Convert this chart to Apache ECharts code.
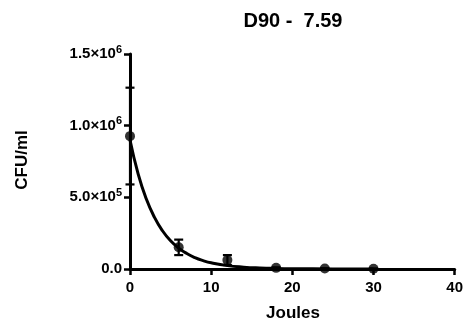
<!DOCTYPE html>
<html>
<head>
<meta charset="utf-8">
<script src="https://cdn.jsdelivr.net/npm/echarts@6/dist/echarts.min.js"></script>
<style>
  html, body { margin: 0; padding: 0; background: #fff; }
  #chart { width: 466px; height: 326px; }
</style>
</head>
<body>
<div id="chart"></div>
<script>
// measured points (Joules vs CFU/ml) with error bars
const pointX = [0, 6, 12, 18, 24, 30]
const pointY = [927000, 152000, 62000, 8000, 3000, 2000]
const errLow = [590000, 97000, 28000, 4000, 1000, 0]
const errHigh = [1265000, 205000, 97000, 12000, 5000, 4000]

// fitted decay curve
const curveX = [0, 1, 2, 3, 4, 5, 6, 7, 8, 9, 10, 12, 14, 16, 18, 20, 25, 30]
const curveY = [900000, 664000, 490000, 362000, 267000, 197000, 146000, 108000, 79500, 58700, 43300, 23600, 12900, 7000, 3800, 2100, 450, 100]

// y tick labels: mantissa and exponent
const yTickValues = [0, 500000, 1000000, 1500000]
const yTickBase = ['0.0', '5.0×10', '1.0×10', '1.5×10']
const yTickExp = ['', '5', '6', '6']

const font = '"Liberation Sans", Arial, sans-serif'

const chart = echarts.init(document.getElementById('chart'))

const option = {
  animation: false,
  backgroundColor: '#fff',
  textStyle: { fontFamily: font },
  grid: { left: 130, right: 11, top: 54, bottom: 57 },
  graphic: [
    {
      type: 'text',
      x: 293,
      y: 21,
      style: {
        text: 'D90 -  7.59',
        font: 'bold 20px ' + font,
        fill: '#000',
        align: 'center',
        verticalAlign: 'middle',
      },
    },
    {
      type: 'text',
      x: 22,
      y: 160,
      rotation: Math.PI / 2,
      style: {
        text: 'CFU/ml',
        font: 'bold 17px ' + font,
        fill: '#000',
        align: 'center',
        verticalAlign: 'middle',
      },
    },
    {
      type: 'text',
      x: 293,
      y: 313,
      style: {
        text: 'Joules',
        font: 'bold 17px ' + font,
        fill: '#000',
        align: 'center',
        verticalAlign: 'middle',
      },
    },
  ],
  xAxis: {
    type: 'value',
    min: 0,
    max: 40,
    interval: 10,
    splitLine: { show: false },
    axisLine: { show: true, onZero: false, lineStyle: { color: '#000', width: 3 } },
    axisTick: { show: true, length: 6, lineStyle: { color: '#000', width: 2.5 } },
    axisLabel: { color: '#000', fontWeight: 'bold', fontSize: 15, margin: 11, fontFamily: font },
  },
  yAxis: {
    type: 'value',
    min: 0,
    max: 1500000,
    interval: 500000,
    splitLine: { show: false },
    axisLine: { show: true, onZero: false, lineStyle: { color: '#000', width: 3 } },
    axisTick: { show: true, length: 6, lineStyle: { color: '#000', width: 2.5 } },
    axisLabel: {
      margin: 8,
      formatter: (v) => {
        const i = yTickValues.indexOf(v)
        if (i < 0) return ''
        return yTickExp[i] ? `{b|${yTickBase[i]}}{s|${yTickExp[i]}}` : `{b|${yTickBase[i]}}`
      },
      rich: {
        b: { color: '#000', fontWeight: 'bold', fontSize: 15, fontFamily: font },
        s: { color: '#000', fontWeight: 'bold', fontSize: 11, fontFamily: font, padding: [0, 0, 9, 0] },
      },
    },
  },
  series: [
    {
      name: 'fit',
      type: 'line',
      data: curveX.map((x, i) => [x, curveY[i]]),
      smooth: true,
      symbol: 'none',
      clip: false,
      lineStyle: { color: '#000', width: 3 },
      z: 2,
    },
    {
      name: 'error',
      type: 'custom',
      clip: false,
      data: pointX.map((x, i) => [x, errLow[i], errHigh[i]]),
      renderItem: (params, api) => {
        const lo = api.coord([api.value(0), api.value(1)])
        const hi = api.coord([api.value(0), api.value(2)])
        const w = 4.5
        const style = { stroke: '#000', lineWidth: 2.2 }
        return {
          type: 'group',
          children: [
            { type: 'line', shape: { x1: lo[0], y1: lo[1], x2: hi[0], y2: hi[1] }, style },
            { type: 'line', shape: { x1: lo[0] - w, y1: lo[1], x2: lo[0] + w, y2: lo[1] }, style },
            { type: 'line', shape: { x1: hi[0] - w, y1: hi[1], x2: hi[0] + w, y2: hi[1] }, style },
          ],
        }
      },
      z: 3,
    },
    {
      name: 'points',
      type: 'scatter',
      data: pointX.map((x, i) => [x, pointY[i]]),
      symbol: 'circle',
      symbolSize: 10,
      clip: false,
      itemStyle: { color: '#000' },
      z: 4,
    },
  ],
}

chart.setOption(option)
</script>
</body>
</html>
